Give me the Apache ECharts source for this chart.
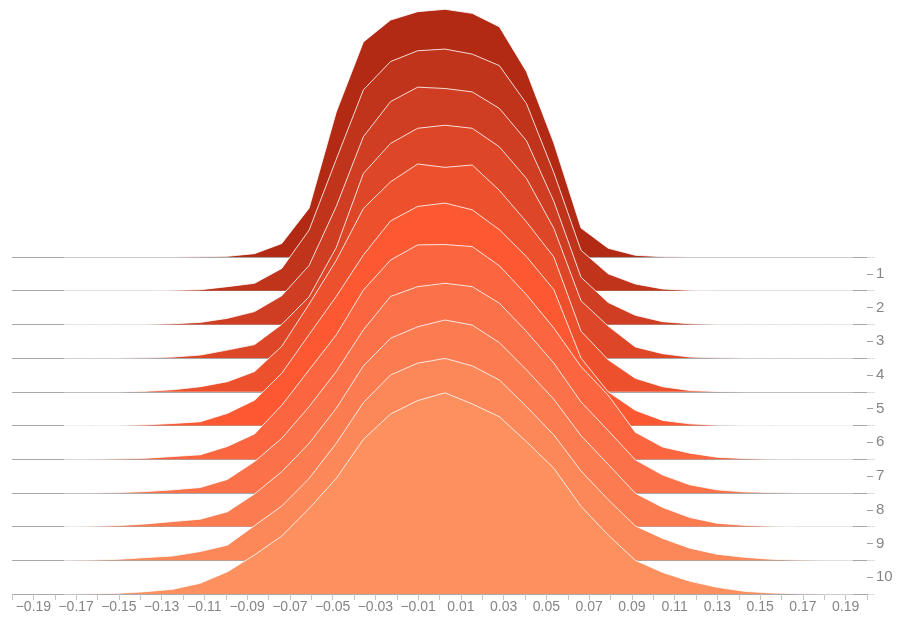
<!DOCTYPE html>
<html>
<head>
<meta charset="utf-8">
<script src="https://cdn.jsdelivr.net/npm/echarts@6/dist/echarts.min.js"></script>
<style>
  html, body { margin: 0; padding: 0; background: #fff; }
  #chart { width: 901px; height: 623px; }
</style>
</head>
<body>
<div id="chart"></div>
<script>
// x positions of the density estimate points
const xs = [-0.1756, -0.1628, -0.1501, -0.1374, -0.1247, -0.1119, -0.0992, -0.0865, -0.0738, -0.0610,
            -0.0483, -0.0356, -0.0229, -0.0102, 0.0026, 0.0153, 0.0280, 0.0407, 0.0535, 0.0662,
            0.0789, 0.0916, 0.1044, 0.1171, 0.1298, 0.1425, 0.1553, 0.1680, 0.1807, 0.1934];

// ridge heights (in units of one row spacing), top ridge first
const ridge0  = [0,0,0,0,0,0.01,0.02,0.1,0.4,1.45,4.3, 6.38,7.03,7.28,7.35,7.23,6.83, 5.5,3.38,0.86,0.26,0.05,0.01,0,0,0,0,0,0,0];
const ridge1  = [0,0,0,0,0.01,0.03,0.12,0.22,0.66,1.8,3.9, 5.96,6.8,7.12,7.17,7.02,6.68, 5.55,3.5,1.2,0.5,0.2,0.05,0.01,0,0,0,0,0,0];
const ridge2  = [0,0,0,0,0.02,0.06,0.18,0.38,0.85,1.75,3.5, 5.57,6.61,7.04,7.0,6.9,6.41, 5.45,3.65,1.4,0.65,0.27,0.08,0.02,0,0,0,0,0,0];
const ridge3  = [0,0,0,0.01,0.03,0.09,0.24,0.4,1.0,1.82,3.28, 5.48,6.37,6.82,6.91,6.82,6.27, 5.33,3.85,1.7,0.95,0.33,0.13,0.03,0.01,0,0,0,0,0];
const ridge4  = [0,0,0,0.02,0.06,0.15,0.3,0.6,1.35,2.6,3.9, 5.44,6.23,6.76,6.66,6.73,5.98, 5.04,4.0,1.8,0.95,0.4,0.15,0.04,0.01,0,0,0,0,0];
const ridge5  = [0,0,0,0.02,0.06,0.11,0.36,0.75,1.55,2.7,3.83, 5.06,6.07,6.5,6.6,6.4,5.81, 5.01,4.03,2.0,1.0,0.45,0.15,0.05,0.01,0,0,0,0,0];
const ridge6  = [0,0,0.01,0.03,0.08,0.13,0.38,0.75,1.6,2.65,3.69, 5.02,5.91,6.36,6.37,6.31,5.74, 4.88,3.89,2.75,1.9,0.8,0.36,0.18,0.06,0.02,0,0,0,0];
const ridge7  = [0,0,0.01,0.04,0.09,0.16,0.4,0.93,1.62,2.56,3.6, 4.84,5.83,6.12,6.22,6.12,5.63, 4.79,3.85,2.7,1.85,0.98,0.53,0.24,0.09,0.03,0.01,0,0,0];
const ridge8  = [0,0.01,0.03,0.08,0.15,0.22,0.44,0.97,1.63,2.47,3.51, 4.77,5.59,5.93,6.13,5.98,5.46, 4.65,3.78,2.7,1.85,0.99,0.57,0.27,0.1,0.04,0.01,0,0,0];
const ridge9  = [0,0.01,0.03,0.08,0.13,0.26,0.45,1.03,1.61,2.43,3.47, 4.68,5.5,5.85,5.99,5.77,5.35, 4.56,3.72,2.65,1.8,1.02,0.65,0.36,0.18,0.09,0.03,0.01,0,0];
const ridge10 = [0,0.01,0.02,0.07,0.14,0.32,0.66,1.16,1.72,2.54,3.43, 4.59,5.34,5.74,5.97,5.64,5.26, 4.52,3.73,2.6,1.75,1.0,0.64,0.38,0.2,0.08,0.03,0.01,0,0];

// row labels on the right axis
const rowLabels = ['1','2','3','4','5','6','7','8','9','10'];

// fill colours, top ridge first
const colors = ['#b22a14','#c0341c','#cf3d22','#dd4627','#ec502d','#fc5832',
                '#fb6640','#fb714a','#fc7c52','#fc8758','#fc915f'];

const ridges = [ridge0, ridge1, ridge2, ridge3, ridge4, ridge5, ridge6, ridge7, ridge8, ridge9, ridge10];

// layout
const LEFT = 12, WIDTH = 855, BOTTOM_Y = 594, STEP = 33.7, RIDGE_MAX = 7.5;
const FONT = "'Liberation Sans', Arial, Helvetica, sans-serif";
const n = ridges.length;

const grids = [], xAxes = [], yAxes = [], series = [];
ridges.forEach((vals, r) => {
  const base = BOTTOM_Y - (n - 1 - r) * STEP;
  const h = RIDGE_MAX * STEP;
  grids.push({ left: LEFT, width: WIDTH, top: base - h, height: h });
  const isBottom = r === n - 1;
  xAxes.push({
    type: 'value', gridIndex: r, min: -0.2, max: 0.2, interval: 0.01,
    show: isBottom,
    axisLine: { show: false, onZero: false },
    splitLine: { show: false },
    axisTick: { show: isBottom, length: 6, lineStyle: { color: '#c4c4c4', width: 1 } },
    axisLabel: {
      show: isBottom, color: '#858585', fontSize: 14, fontFamily: FONT, margin: 6,
      formatter: function (v) {
        const c = Math.round(v * 100);
        if (Math.abs(c) % 2 !== 1) return '';
        return (c < 0 ? '\u2212' : '') + Math.abs(v).toFixed(2);
      }
    }
  });
  yAxes.push({ type: 'value', gridIndex: r, min: 0, max: RIDGE_MAX, show: false });
  series.push({
    type: 'line', xAxisIndex: r, yAxisIndex: r,
    data: xs.map((x, i) => [x, vals[i]]),
    symbol: 'none', smooth: false, clip: false,
    lineStyle: { color: 'rgba(255,255,255,0.82)', width: 1 },
    areaStyle: { color: colors[r], opacity: 1 },
    z: 2 + r, silent: true
  });
});

// grid for row labels and row boundary lines
const rowTop = BOTTOM_Y - (n - 1) * STEP, rowH = (n - 1) * STEP;
const lg = n;
grids.push({ left: LEFT, width: WIDTH, top: rowTop, height: rowH });
xAxes.push({ type: 'value', gridIndex: lg, min: -0.2, max: 0.2, show: false });
yAxes.push({
  type: 'category', gridIndex: lg, data: rowLabels, inverse: true, position: 'right',
  boundaryGap: true,
  axisLine: { show: false, onZero: false },
  axisTick: { show: true, alignWithLabel: true, interval: 0, length: 6, lineStyle: { color: '#a0a0a0', width: 1 } },
  axisLabel: { color: '#858585', fontSize: 15, fontFamily: FONT, margin: 9, interval: 0 },
  splitLine: { show: true, interval: 0, lineStyle: { color: '#a8a8a8', width: 1 } }
});
// separate grid for the short boundary ticks beyond the right edge
const bg = n + 1;
grids.push({ left: LEFT, width: WIDTH, top: rowTop, height: rowH });
xAxes.push({ type: 'value', gridIndex: bg, min: -0.2, max: 0.2, show: false });
yAxes.push({
  type: 'category', gridIndex: bg, data: rowLabels, inverse: true, position: 'right',
  boundaryGap: true,
  axisLine: { show: false, onZero: false },
  axisTick: { show: true, alignWithLabel: false, interval: 0, length: 8, lineStyle: { color: '#dedede' } },
  axisLabel: { show: false },
  splitLine: { show: false }
});

const chart = echarts.init(document.getElementById('chart'), null, { renderer: 'canvas' });
chart.setOption({
  animation: false,
  backgroundColor: '#fff',
  grid: grids,
  xAxis: xAxes,
  yAxis: yAxes,
  series: series
});
</script>
</body>
</html>
